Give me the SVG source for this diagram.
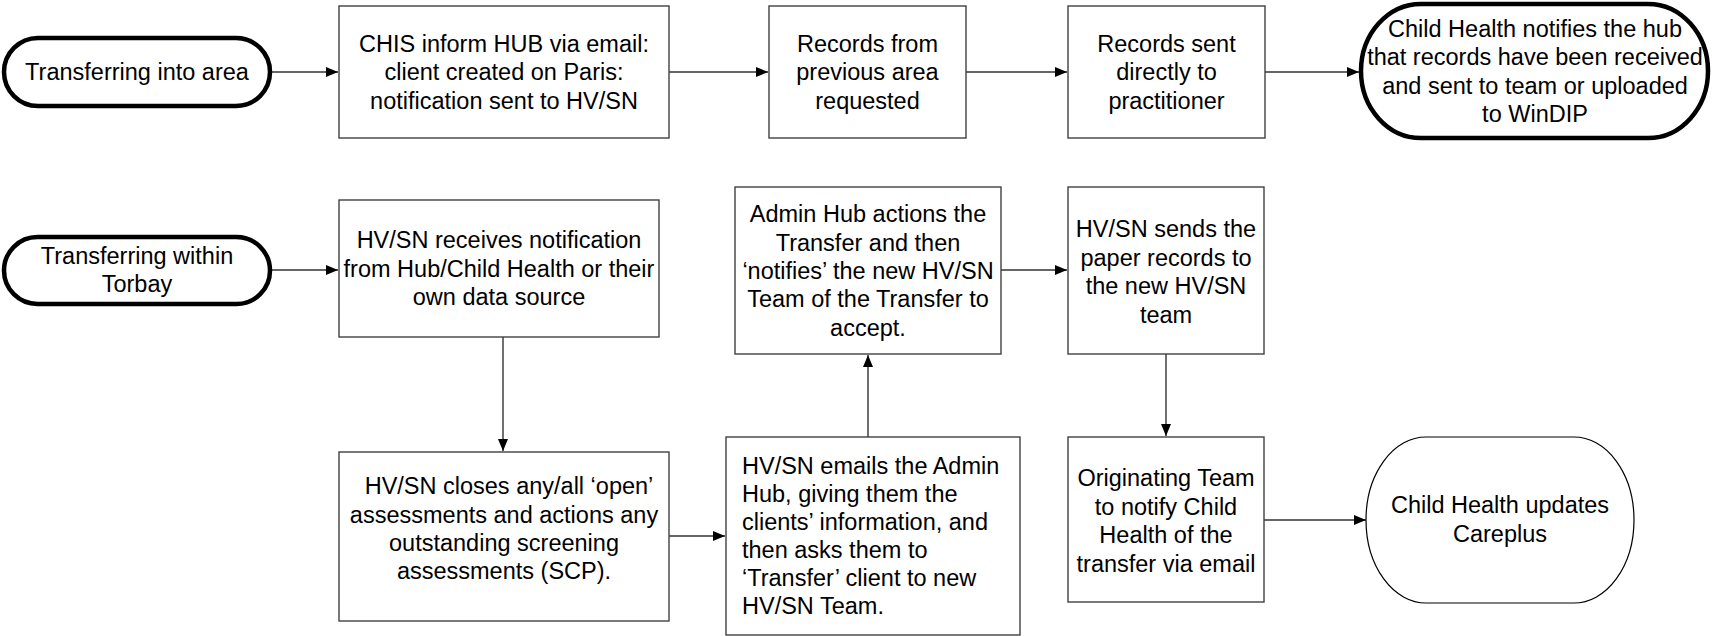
<svg xmlns="http://www.w3.org/2000/svg" width="1713" height="636" viewBox="0 0 1713 636">
<defs>
<marker id="ah" markerUnits="userSpaceOnUse" markerWidth="13" markerHeight="11" refX="12" refY="5" orient="auto">
<path d="M0,0 L12,5 L0,10 z" fill="#000"/>
</marker>
<style>
.box{fill:#fff;stroke:#404040;stroke-width:1.4}
.term{fill:#fff;stroke:#000;stroke-width:4.5}
.thin{fill:#fff;stroke:#000;stroke-width:1.2}
.t{font-family:"Liberation Sans",Arial,sans-serif;font-size:23.5px;fill:#000;text-anchor:middle}
.tl{font-family:"Liberation Sans",Arial,sans-serif;font-size:23.5px;fill:#000}
.c{fill:none;stroke:#333;stroke-width:1.4;marker-end:url(#ah)}
</style>
</defs>
<rect width="1713" height="636" fill="#fff"/>
<g id="connectors">
<path class="c" d="M272,72 H338"/>
<path class="c" d="M669,72 H768"/>
<path class="c" d="M966,72 H1067"/>
<path class="c" d="M1265,72 H1359"/>
<path class="c" d="M272,270 H338"/>
<path class="c" d="M503,337 V451"/>
<path class="c" d="M669,536 H725"/>
<path class="c" d="M868,437 V355"/>
<path class="c" d="M1001,270 H1067"/>
<path class="c" d="M1166,354 V436"/>
<path class="c" d="M1264,520 H1366"/>
</g>
<g id="n1">
<rect class="term" x="4" y="38" width="266" height="68" rx="34" ry="34"/>
<text class="t" x="137" y="80">Transferring into area</text>
</g>
<g id="n2">
<rect class="box" x="339" y="6" width="330" height="132"/>
<text class="t" x="504" y="51.5">CHIS inform HUB via email:</text>
<text class="t" x="504" y="80">client created on Paris:</text>
<text class="t" x="504" y="108.5">notification sent to HV/SN</text>
</g>
<g id="n3">
<rect class="box" x="769" y="6" width="197" height="132"/>
<text class="t" x="867.5" y="51.5">Records from</text>
<text class="t" x="867.5" y="80">previous area</text>
<text class="t" x="867.5" y="108.5">requested</text>
</g>
<g id="n4">
<rect class="box" x="1068" y="6" width="197" height="132"/>
<text class="t" x="1166.5" y="51.5">Records sent</text>
<text class="t" x="1166.5" y="80">directly to</text>
<text class="t" x="1166.5" y="108.5">practitioner</text>
</g>
<g id="n5">
<rect class="term" x="1361" y="4" width="347" height="134" rx="60" ry="67"/>
<text class="t" x="1535" y="36.5">Child Health notifies the hub</text>
<text class="t" x="1535" y="65">that records have been received</text>
<text class="t" x="1535" y="93.5">and sent to team or uploaded</text>
<text class="t" x="1535" y="122">to WinDIP</text>
</g>
<g id="n6">
<rect class="term" x="4" y="237" width="266" height="67" rx="33.5" ry="33.5"/>
<text class="t" x="137" y="264">Transferring within</text>
<text class="t" x="137" y="292">Torbay</text>
</g>
<g id="n7">
<rect class="box" x="339" y="200" width="320" height="137"/>
<text class="t" x="499" y="248">HV/SN receives notification</text>
<text class="t" x="499" y="276.5">from Hub/Child Health or their</text>
<text class="t" x="499" y="305">own data source</text>
</g>
<g id="n8">
<rect class="box" x="339" y="452" width="330" height="169"/>
<text class="t" x="509" y="494">HV/SN closes any/all ‘open’</text>
<text class="t" x="504" y="523">assessments and actions any</text>
<text class="t" x="504" y="551">outstanding screening</text>
<text class="t" x="504" y="579">assessments (SCP).</text>
</g>
<g id="n9">
<rect class="box" x="726" y="437" width="294" height="198"/>
<text class="tl" x="742" y="474">HV/SN emails the Admin</text>
<text class="tl" x="742" y="502">Hub, giving them the</text>
<text class="tl" x="742" y="530">clients’ information, and</text>
<text class="tl" x="742" y="558">then asks them to</text>
<text class="tl" x="742" y="586">‘Transfer’ client to new</text>
<text class="tl" x="742" y="614">HV/SN Team.</text>
</g>
<g id="n10">
<rect class="box" x="735" y="187" width="266" height="167"/>
<text class="t" x="868" y="222">Admin Hub actions the</text>
<text class="t" x="868" y="251">Transfer and then</text>
<text class="t" x="868" y="279">‘notifies’ the new HV/SN</text>
<text class="t" x="868" y="307">Team of the Transfer to</text>
<text class="t" x="868" y="336">accept.</text>
</g>
<g id="n11">
<rect class="box" x="1068" y="187" width="196" height="167"/>
<text class="t" x="1166" y="237">HV/SN sends the</text>
<text class="t" x="1166" y="266">paper records to</text>
<text class="t" x="1166" y="294">the new HV/SN</text>
<text class="t" x="1166" y="323">team</text>
</g>
<g id="n12">
<rect class="box" x="1068" y="437" width="196" height="165"/>
<text class="t" x="1166" y="486">Originating Team</text>
<text class="t" x="1166" y="515">to notify Child</text>
<text class="t" x="1166" y="543">Health of the</text>
<text class="t" x="1166" y="572">transfer via email</text>
</g>
<g id="n13">
<rect class="thin" x="1366" y="437" width="268" height="166" rx="60" ry="83"/>
<text class="t" x="1500" y="513">Child Health updates</text>
<text class="t" x="1500" y="542">Careplus</text>
</g>
</svg>
